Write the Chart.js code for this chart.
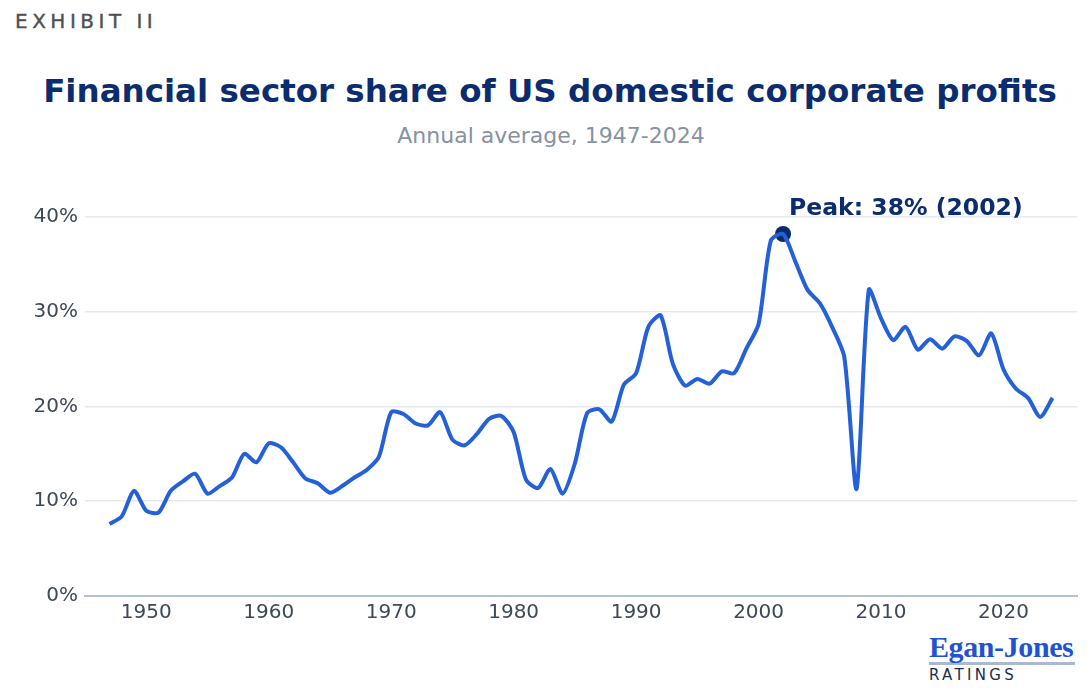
<!DOCTYPE html>
<html>
<head>
<meta charset="utf-8">
<script src="https://cdn.jsdelivr.net/npm/chart.js@4.4.1/dist/chart.umd.min.js"></script>
<style>
    html, body {
        margin: 0;
        padding: 0;
        background: #ffffff;
    }
    body {
        width: 1092px;
        height: 694px;
        position: relative;
        overflow: hidden;
        font-family: "DejaVu Sans", sans-serif;
    }
    .exhibit {
        position: absolute;
        left: 15px;
        top: 9px;
        font-size: 20px;
        letter-spacing: 4.5px;
        color: #4d5156;
        -webkit-text-stroke: 0.4px #4d5156;
    }
    .title {
        position: absolute;
        left: 0;
        width: 1100px;
        top: 72px;
        text-align: center;
        font-size: 32.5px;
        font-weight: bold;
        color: #0b2c6e;
    }
    .subtitle {
        position: absolute;
        left: 0;
        width: 1102px;
        top: 123px;
        text-align: center;
        font-size: 22px;
        color: #8691a3;
    }
    .chart-box {
        position: absolute;
        left: 0;
        top: 160px;
        width: 1092px;
        height: 470px;
    }
    .logo {
        position: absolute;
        left: 929px;
        top: 631px;
        width: 146px;
    }
    .logo .brand {
        font-family: "Liberation Serif", serif;
        font-weight: bold;
        font-size: 30px;
        line-height: 31px;
        color: #1f52d4;
        letter-spacing: -0.4px;
        border-bottom: 3px solid #aab9cb;
    }
    .logo .sub {
        font-size: 15px;
        letter-spacing: 3.3px;
        color: #1d2c4f;
        margin-top: 1px;
    }
</style>
</head>
<body>

<div class="exhibit">EXHIBIT II</div>
<div class="title">Financial sector share of US domestic corporate profits</div>
<div class="subtitle">Annual average, 1947-2024</div>

<div class="chart-box">
    <canvas id="profitsChart"></canvas>
</div>

<div class="logo">
    <div class="brand">Egan-Jones</div>
    <div class="sub">RATINGS</div>
</div>

<script>
// ========================
// DADOS
// ========================
const years = [
    1947, 1948, 1949, 1950, 1951, 1952, 1953, 1954, 1955, 1956,
    1957, 1958, 1959, 1960, 1961, 1962, 1963, 1964, 1965, 1966,
    1967, 1968, 1969, 1970, 1971, 1972, 1973, 1974, 1975, 1976,
    1977, 1978, 1979, 1980, 1981, 1982, 1983, 1984, 1985, 1986,
    1987, 1988, 1989, 1990, 1991, 1992, 1993, 1994, 1995, 1996,
    1997, 1998, 1999, 2000, 2001, 2002, 2003, 2004, 2005, 2006,
    2007, 2008, 2009, 2010, 2011, 2012, 2013, 2014, 2015, 2016,
    2017, 2018, 2019, 2020, 2021, 2022, 2023, 2024
];

// financial share of domestic profits, %
const financialShare = [
    7.6, 8.4, 11.1, 9.0, 8.8, 11.1, 12.1, 12.9, 10.8, 11.6,
    12.5, 15.0, 14.1, 16.1, 15.7, 14.1, 12.4, 11.9, 10.9, 11.6,
    12.5, 13.3, 14.7, 19.4, 19.2, 18.2, 18.0, 19.4, 16.5, 15.9,
    17.1, 18.7, 19.0, 17.3, 12.3, 11.4, 13.4, 10.8, 14.0, 19.3,
    19.7, 18.4, 22.3, 23.5, 28.4, 29.6, 24.5, 22.2, 22.9, 22.4,
    23.7, 23.5, 26.1, 28.7, 37.5, 38.2, 35.3, 32.3, 30.9, 28.4,
    25.2, 11.3, 32.3, 29.3, 27.0, 28.4, 26.0, 27.1, 26.1, 27.4,
    26.9, 25.4, 27.7, 23.9, 21.9, 20.9, 18.9, 20.9
];

const peakYear = 2002;
const peakValue = 38.2;
const peakLabel = 'Peak: 38% (2002)';

const yTicks = [0, 10, 20, 30, 40];
const xTicks = [1950, 1960, 1970, 1980, 1990, 2000, 2010, 2020];

// ========================
// PLUGIN RÓTULO DO PICO
// ========================
const peakLabelPlugin = {
    id: 'peakLabel',
    afterDatasetsDraw(chart) {
        const { ctx, scales } = chart;
        const px = scales.x.getPixelForValue(peakYear);
        const py = scales.y.getPixelForValue(peakValue);

        ctx.save();
        ctx.font = 'bold 23.5px "DejaVu Sans"';
        ctx.fillStyle = '#0b2c6e';
        ctx.textAlign = 'left';
        ctx.textBaseline = 'middle';
        ctx.fillText(peakLabel, px + 6, py - 25);
        ctx.restore();
    }
};

// ========================
// GRÁFICO
// ========================
const ctx = document.getElementById('profitsChart').getContext('2d');

new Chart(ctx, {
    type: 'line',
    data: {
        datasets: [
            {
                data: years.map((yr, i) => ({ x: yr, y: financialShare[i] })),
                borderColor: '#2461d8',
                borderWidth: 4,
                tension: 0.25,
                pointRadius: 0,
                fill: false
            },
            {
                data: [{ x: peakYear, y: peakValue }],
                showLine: false,
                pointRadius: 8,
                pointBackgroundColor: '#0a2a6a',
                pointBorderColor: '#0a2a6a',
                pointBorderWidth: 0
            }
        ]
    },
    options: {
        responsive: true,
        maintainAspectRatio: false,
        animation: false,
        layout: {
            padding: { top: 8, right: 15, left: 0, bottom: 0 }
        },
        plugins: {
            legend: { display: false },
            tooltip: { enabled: false }
        },
        scales: {
            x: {
                type: 'linear',
                min: 1945,
                max: 2026,
                afterBuildTicks: axis => {
                    axis.ticks = xTicks.map(v => ({ value: v }));
                },
                afterFit: axis => {
                    axis.height = 34;
                },
                ticks: {
                    padding: 5,
                    color: '#3d4859',
                    font: { family: 'DejaVu Sans', size: 20 },
                    callback: v => String(v),
                    maxRotation: 0
                },
                grid: {
                    display: false,
                    drawTicks: false
                },
                border: {
                    display: true,
                    color: '#b4c1d2',
                    width: 2
                }
            },
            y: {
                min: 0,
                max: 44,
                afterBuildTicks: axis => {
                    axis.ticks = yTicks.map(v => ({ value: v }));
                },
                afterFit: axis => {
                    axis.width = 85;
                },
                ticks: {
                    padding: 7,
                    color: '#3d4859',
                    font: { family: 'DejaVu Sans', size: 20 },
                    callback: v => v + '%'
                },
                grid: {
                    color: '#e6eaf0',
                    lineWidth: 1.5,
                    drawTicks: false
                },
                border: { display: false }
            }
        }
    },
    plugins: [peakLabelPlugin]
});
</script>
</body>
</html>
